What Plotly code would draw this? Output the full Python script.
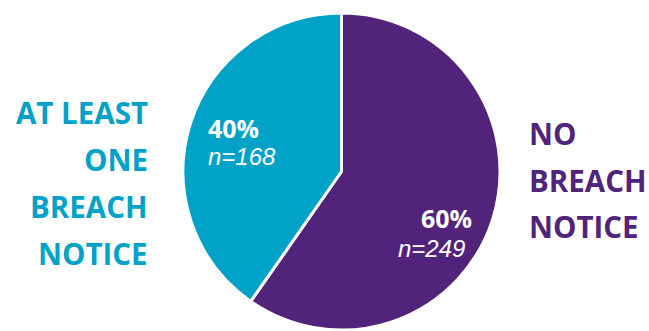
import plotly.graph_objects as go

categories = ["NO BREACH NOTICE", "AT LEAST ONE BREACH NOTICE"]
values = [249, 168]
pct_labels = ["60%", "40%"]
n_labels = ["n=249", "n=168"]
colors = ["#52237A", "#00A3C7"]
left_lines = ["AT LEAST", "ONE", "BREACH", "NOTICE"]
right_lines = ["NO", "BREACH", "NOTICE"]

W, H = 649, 331

fig = go.Figure(go.Pie(
    labels=categories, values=values, sort=False, direction="clockwise", rotation=0,
    marker=dict(colors=colors, line=dict(color="white", width=3)),
    textinfo="none", hoverinfo="label+percent", showlegend=False,
    domain=dict(x=[183 / W, 500 / W], y=[1 / H, 318 / H]),
))

def px(x):
    return x / W

def py(y):
    return 1 - y / H

ann = []
for i, t in enumerate(left_lines):
    ann.append(dict(text=t, x=px(150), y=py(113 + 46.7 * i), xanchor="right", yanchor="middle",
                    font=dict(family="Open Sans", size=29.5, color=colors[1], weight="bold")))
for i, t in enumerate(right_lines):
    ann.append(dict(text=t, x=px(527), y=py(133 + 47 * i), xanchor="left", yanchor="middle",
                    font=dict(family="Open Sans", size=29.5, color=colors[0], weight="bold")))
ann.append(dict(text=pct_labels[1], x=px(206), y=py(128), xanchor="left", yanchor="middle",
                font=dict(family="Open Sans", size=25, color="white", weight="bold")))
ann.append(dict(text=n_labels[1], x=px(206), y=py(157), xanchor="left", yanchor="middle",
                font=dict(family="Liberation Sans", size=24, color="white", style="italic")))
ann.append(dict(text=pct_labels[0], x=px(474), y=py(218), xanchor="right", yanchor="middle",
                font=dict(family="Open Sans", size=25, color="white", weight="bold")))
ann.append(dict(text=n_labels[0], x=px(467), y=py(248), xanchor="right", yanchor="middle",
                font=dict(family="Liberation Sans", size=24, color="white", style="italic")))

for a in ann:
    a.update(xref="paper", yref="paper", showarrow=False)

fig.update_layout(
    width=W, height=H, margin=dict(l=0, r=0, t=0, b=0),
    paper_bgcolor="white", plot_bgcolor="white",
    annotations=ann,
)

fig.write_html("out.html")
